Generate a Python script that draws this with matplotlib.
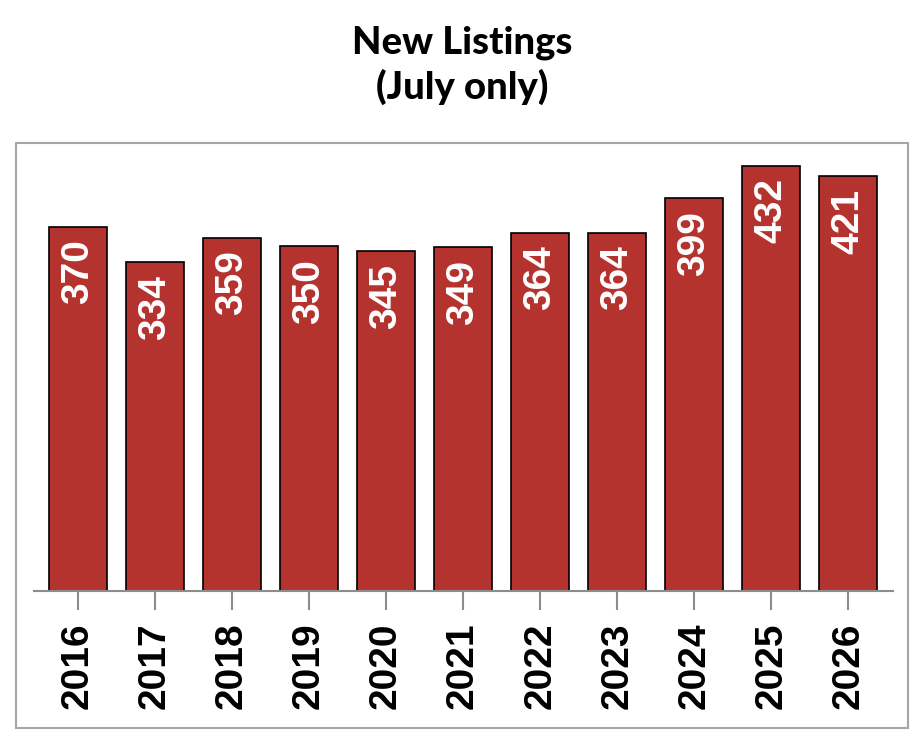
import matplotlib
matplotlib.use("Agg")
import matplotlib.pyplot as plt
from matplotlib.patches import Rectangle

years = ["2016", "2017", "2018", "2019", "2020", "2021", "2022", "2023", "2024", "2025", "2026"]
listings = [370, 334, 359, 350, 345, 349, 364, 364, 399, 432, 421]

bar_color = "#B5332F"
narrow = ["Liberation Sans Narrow", "Liberation Sans", "DejaVu Sans"]

fig = plt.figure(figsize=(9.24, 7.48), dpi=100)

# outer grey frame around the plot area
fig.patches.append(Rectangle((16 / 924, 1 - 728 / 748), 892 / 924, 585 / 748,
                             transform=fig.transFigure, fill=False,
                             edgecolor="#a6a6a6", linewidth=1.5))

fig.text(0.5, 1 - 65 / 748, "New Listings\n(July only)", ha="center", va="center",
         fontsize=27.5, fontweight="black", family=["Lato", "DejaVu Sans"],
         linespacing=1.3)

ax = fig.add_axes([34 / 924, 1 - 591 / 748, 859 / 924, 448 / 748])
x = range(len(years))
bars = ax.bar(x, listings, width=0.75, color=bar_color, edgecolor="black", linewidth=1.2)

for xi, v in zip(x, listings):
    ax.annotate(str(v), (xi, v), xytext=(0, -9), textcoords="offset points",
                ha="center", va="top", rotation=90, color="white",
                fontsize=28, fontweight="bold", family=narrow)

ax.set_xlim(-0.57, len(years) - 1 + 0.58)
ax.set_ylim(0, 455)
ax.set_xticks(list(x))
ax.set_xticklabels(years, rotation=90, fontsize=28, fontweight="bold",
                   family=["Liberation Sans", "DejaVu Sans"])
ax.set_yticks([])
for s in ["top", "right", "left"]:
    ax.spines[s].set_visible(False)
ax.spines["bottom"].set_color("#8c8c8c")
ax.spines["bottom"].set_linewidth(1.5)
ax.tick_params(axis="x", length=13.5, width=1.5, color="#8c8c8c", pad=9)
ax.patch.set_alpha(0)

fig.savefig("out.png", dpi=100)
